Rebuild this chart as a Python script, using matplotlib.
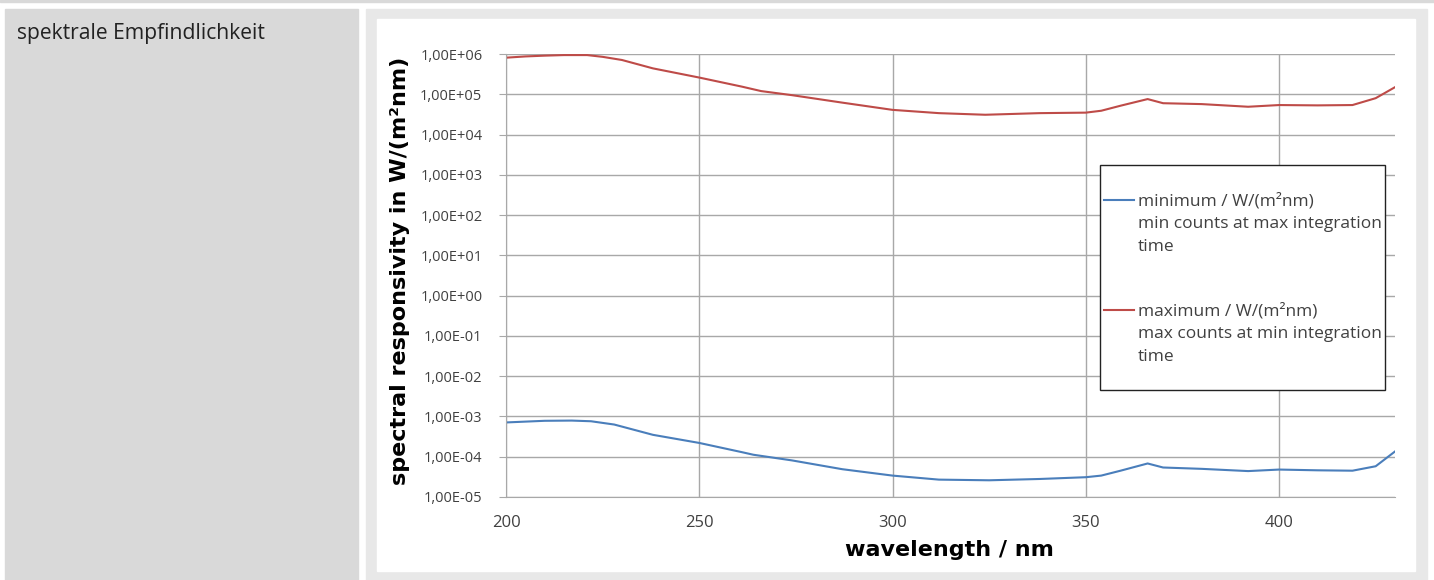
import numpy as np
import matplotlib.pyplot as plt
from matplotlib.patches import Rectangle
from matplotlib.legend_handler import HandlerLine2D
from matplotlib.ticker import FixedLocator, FuncFormatter

# wavelength samples (nm) and values
WL_MAX = [200, 205, 210, 215, 221, 225, 230, 238, 250, 261, 266, 274, 287, 300, 312,
          324, 338, 350, 354, 359, 366, 370, 380, 392, 400, 410, 419, 425, 430]
MAX_VAL = [8.1e5, 8.7e5, 9.1e5, 9.4e5, 9.4e5, 8.5e5, 7.1e5, 4.4e5, 2.6e5, 1.55e5, 1.2e5,
           9.5e4, 6.2e4, 4.1e4, 3.4e4, 3.1e4, 3.4e4, 3.5e4, 3.9e4, 5.2e4, 7.6e4, 6.0e4,
           5.7e4, 4.9e4, 5.4e4, 5.3e4, 5.4e4, 8.0e4, 1.5e5]
WL_MIN = [200, 210, 217, 222, 228, 238, 250, 261, 264, 274, 287, 300, 312, 325, 338,
          350, 354, 359, 366, 370, 380, 392, 400, 410, 419, 425, 430]
MIN_VAL = [7.1e-4, 7.8e-4, 7.9e-4, 7.6e-4, 6.3e-4, 3.5e-4, 2.2e-4, 1.3e-4, 1.12e-4, 8.1e-5,
           4.9e-5, 3.4e-5, 2.7e-5, 2.6e-5, 2.8e-5, 3.1e-5, 3.4e-5, 4.5e-5, 6.8e-5, 5.4e-5,
           5.0e-5, 4.4e-5, 4.8e-5, 4.6e-5, 4.5e-5, 5.8e-5, 1.35e-4]
X_TICKS = [200, 250, 300, 350, 400]
Y_EXP = list(range(-5, 7))

LABEL_MIN = "minimum / W/(m²nm)\nmin counts at max integration\ntime"
LABEL_MAX = "maximum / W/(m²nm)\nmax counts at min integration\ntime"
BLUE = "#4a7ebb"; RED = "#be4b48"; GRID = "#a8a8a8"; TXT = "#404040"

W, H = 1434, 580
fig = plt.figure(figsize=(W / 100, H / 100), dpi=100, facecolor="white")


def fig_box(x0, y0, x1, y1):
    """pixel box (top-left origin) -> figure-fraction (x, y, w, h)"""
    return x0 / W, 1 - y1 / H, (x1 - x0) / W, (y1 - y0) / H


def px_rect(x0, y0, x1, y1, color):
    x, y, w, h = fig_box(x0, y0, x1, y1)
    fig.patches.append(Rectangle((x, y), w, h, transform=fig.transFigure,
                                 color=color, zorder=-5))


# page-like table background
px_rect(0, 0, W, 2, "#d9d9d9")
px_rect(5, 9, 358, H, "#d9d9d9")
px_rect(366, 9, 1427, H, "#e8e8e8")
px_rect(377, 19, 1415, 571, "white")
fig.text(17 / W, 1 - 34 / H, "spektrale Empfindlichkeit", family="Open Sans",
         fontsize=15.2, color="#222222", va="center", ha="left")

ax = fig.add_axes(fig_box(506, 54, 1395, 497))
ax.set_facecolor("white")
ax.plot(WL_MIN, MIN_VAL, color=BLUE, lw=1.5, label=LABEL_MIN)
ax.plot(WL_MAX, MAX_VAL, color=RED, lw=1.5, label=LABEL_MAX)
ax.set_yscale("log")
ax.set_xlim(200, 430); ax.set_ylim(1e-5, 1e6)
ax.xaxis.set_major_locator(FixedLocator(X_TICKS))
ax.yaxis.set_major_locator(FixedLocator([10.0 ** e for e in Y_EXP]))
ax.yaxis.set_minor_locator(FixedLocator([]))
ax.yaxis.set_major_formatter(FuncFormatter(
    lambda v, _: "1,00E{:+03d}".format(int(round(np.log10(v))))))
ax.grid(True, color=GRID, lw=1)
ax.set_axisbelow(True)
for s in ["top", "right"]:
    ax.spines[s].set_visible(False)
for s in ["left", "bottom"]:
    ax.spines[s].set_color(GRID)
ax.tick_params(axis="y", length=5, color=GRID, labelsize=10.5, labelcolor=TXT, pad=12)
ax.tick_params(axis="x", length=0, labelsize=12, labelcolor=TXT, pad=13)
for lab in ax.get_xticklabels() + ax.get_yticklabels():
    lab.set_family("Open Sans")

ax.set_xlabel("wavelength / nm", fontsize=16, fontweight="bold")
ax.set_ylabel("spectral responsivity in W/(m²nm)", fontsize=16, fontweight="bold")
ax.yaxis.set_label_coords((410 - 506) / 889, 0.51)
ax.xaxis.set_label_coords(0.499, -(540 - 497) / 443)


class TopLine(HandlerLine2D):
    """legend line drawn next to the first text line instead of the middle one"""
    def create_artists(self, legend, orig_handle, xdescent, ydescent, width, height,
                       fontsize, trans):
        arts = super().create_artists(legend, orig_handle, xdescent, ydescent, width,
                                      height, fontsize, trans)
        for a in arts:
            a.set_ydata(np.asarray(a.get_ydata()) + 17)
        return arts


# legend frame drawn separately so its padding can differ from the text padding
lx, ly, lw_, lh = fig_box(1100, 165, 1385, 390)
ax.add_patch(Rectangle((lx, ly), lw_, lh, transform=fig.transFigure, facecolor="white",
                       edgecolor="#222222", lw=1.0, zorder=4, clip_on=False))
leg = ax.legend(loc="upper left", bbox_to_anchor=(1104 / W, 1 - 193 / H),
                bbox_transform=fig.transFigure, frameon=False,
                labelspacing=2.8, handlelength=1.7, handletextpad=0.25, borderpad=0,
                borderaxespad=0, prop={"family": "Open Sans", "size": 12.5},
                handler_map={plt.Line2D: TopLine()})
leg.set_zorder(5)
for t in leg.get_texts():
    t.set_color(TXT)
    t.set_linespacing(1.55)

fig.savefig("out.png", dpi=100, facecolor="white")
